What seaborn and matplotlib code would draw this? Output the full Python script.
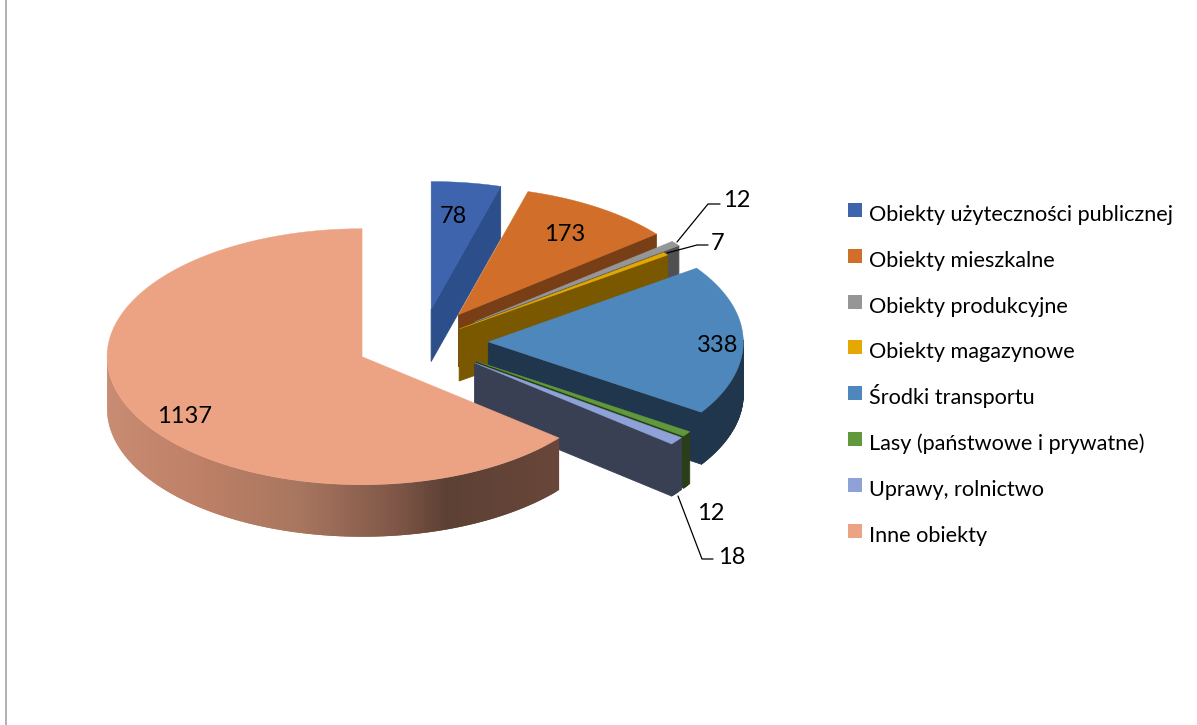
import numpy as np
import matplotlib
matplotlib.use("Agg")
import matplotlib.pyplot as plt
import seaborn as sns
from matplotlib.patches import Polygon, Rectangle

# dane z wykresu
categories = ["Obiekty użyteczności publicznej", "Obiekty mieszkalne", "Obiekty produkcyjne",
              "Obiekty magazynowe", "Środki transportu", "Lasy (państwowe i prywatne)",
              "Uprawy, rolnictwo", "Inne obiekty"]
values = [78, 173, 12, 7, 338, 12, 18, 1137]

sns.set_theme(style="white")
plt.rcParams['font.family'] = ['Lato', 'DejaVu Sans']

top_colors = sns.color_palette(["#3E64AE", "#D06E2A", "#969696", "#E4A800",
                                "#4E87BC", "#60983C", "#8EA2D8", "#ECA384"])
wall_colors = sns.color_palette(["#2C4E8A", "#783E16", "#505050", "#7A5800",
                                 "#20364C", "#2A3E1A", "#3A4054", "#5D4034"])
explode = [0.26, 0.26, 0.26, 0.18, 0.26, 0.26, 0.26, 0.26]

# geometria "3D" w pikselach obrazka
cx, cy = 422, 342.5
rx, ry = 255, 128
depth = 52

# cieniowanie boku dla ostatniego wycinka (x -> kolor)
grad_x = [107, 200, 300, 400, 445, 559]
grad_rgb = np.array([(200, 140, 115), (190, 128, 103), (168, 118, 95),
                     (125, 85, 70), (93, 64, 52), (105, 70, 58)]) / 255

fig, ax = plt.subplots(figsize=(11.97, 7.25), dpi=100)
fig.subplots_adjust(0, 0, 1, 1)
ax.set_xlim(0, 1197)
ax.set_ylim(725, 0)
ax.axis("off")

ax.plot([6, 6], [0, 725], color="#ABABAB", lw=1.3)


def ring(ox, oy, a):
    return ox + rx * np.sin(a), oy - ry * np.cos(a)


total = sum(values)
edges = np.cumsum([0] + values) / total * 2 * np.pi

for i, v in enumerate(values):
    a0, a1 = edges[i], edges[i + 1]
    mid = (a0 + a1) / 2
    ox = cx + explode[i] * rx * np.sin(mid)
    oy = cy - explode[i] * ry * np.cos(mid)
    wall = wall_colors[i]
    top = top_colors[i]
    last = i == len(values) - 1

    # sciany promieniowe, tylko te widoczne
    for a, visible in ((a0, np.sin(a0) < -1e-6), (a1, np.sin(a1) > 1e-6)):
        if not visible:
            continue
        ex, ey = ring(ox, oy, a)
        ax.add_patch(Polygon([(ox, oy), (ex, ey), (ex, ey + depth), (ox, oy + depth)],
                             fc=wall, ec=wall, lw=0.6))

    # bok zewnetrzny, paskami zachodzacymi na siebie
    aa = np.linspace(a0, a1, max(int((a1 - a0) * 60), 4))
    step = aa[1] - aa[0]
    for b0 in aa[:-1]:
        b1 = min(b0 + 2 * step, a1)
        if np.cos(b0 + step / 2) > 0.02:
            continue
        c = wall
        if last:
            xm = ring(ox, oy, b0 + step / 2)[0]
            c = [np.interp(xm, grad_x, grad_rgb[:, k]) for k in range(3)]
        bb = np.linspace(b0, b1, 6)
        bx, by = ring(ox, oy, bb)
        pts = list(zip(bx, by)) + list(zip(bx[::-1], by[::-1] + depth))
        if last:
            ax.add_patch(Polygon(pts, fc=c, ec="none"))
        else:
            ax.add_patch(Polygon(pts, fc=c, ec=c, lw=0.6))

    # wierzch
    aa = np.linspace(a0, a1, 200)
    xs, ys = ring(ox, oy, aa)
    ax.add_patch(Polygon(list(zip(xs, ys)) + [(ox, oy)], fc=top, ec=top, lw=0.3))

# etykiety danych
for txt, x, y in [("78", 453, 216), ("173", 565, 234), ("12", 737, 200), ("7", 718, 243),
                  ("338", 718, 345), ("12", 711, 514), ("18", 732, 558), ("1137", 185, 416)]:
    ax.text(x, y, txt, fontsize=17, color="black", ha="center", va="center")

# linie odniesienia
for lx, ly in [([677, 708, 720], [242, 204, 204]),
               ([667, 697, 708], [253, 245, 245]),
               ([678, 702, 713], [496, 559, 559])]:
    ax.plot(lx, ly, color="black", lw=0.9)

# legenda
for i, name in enumerate(categories):
    yy = 210 + i * 45.8
    ax.add_patch(Rectangle((848, yy - 7), 14, 14, fc=top_colors[i], ec="none"))
    ax.text(869, yy + 11, name, fontsize=15.6, color="black", ha="left", va="baseline")

fig.savefig("out.png", dpi=100)
